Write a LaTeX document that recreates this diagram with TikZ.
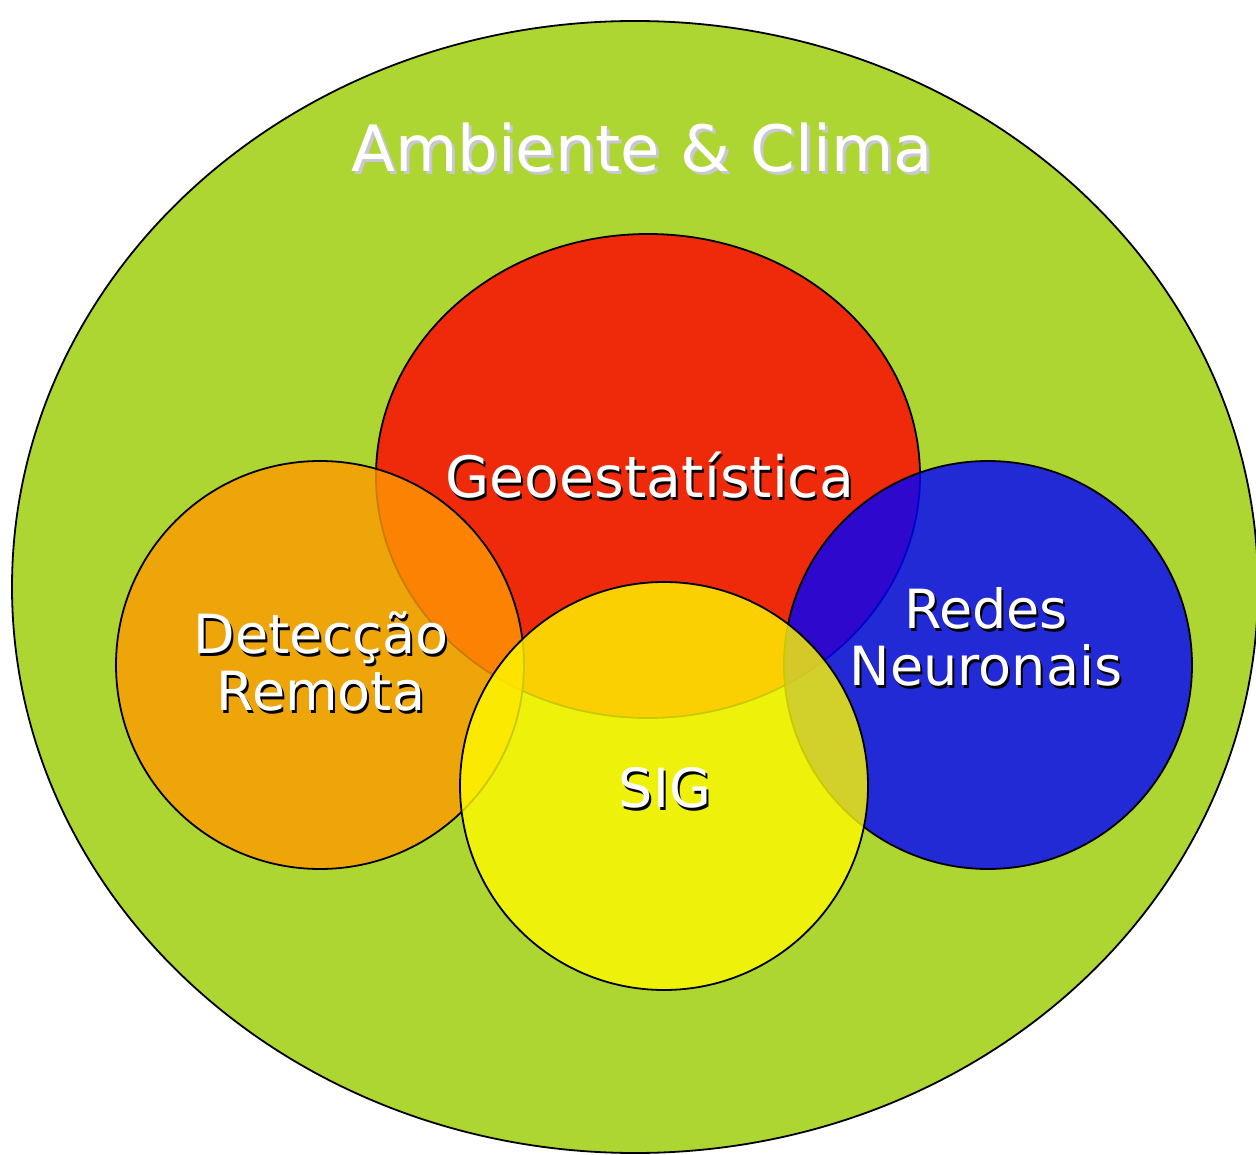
\documentclass[tikz,border=0pt]{standalone}
\usepackage{fontspec}
\setmainfont{DejaVu Sans}
\usepackage{xcolor}
\definecolor{envgreen}{HTML}{AED633}
\definecolor{geored}{HTML}{FF0000}
\definecolor{remorange}{HTML}{FF9900}
\definecolor{netblue}{HTML}{0000FF}
\definecolor{sigyellow}{HTML}{FFFA00}
\definecolor{titleshade}{HTML}{C8C8D4}
\tikzstyle{venn} = [
    draw=black,
    line width=1.8pt,
    fill opacity=0.8
    ]
\tikzstyle{labeltext} = [
    text=white,
    align=center,
    inner sep=0pt,
    anchor=base,
    font=\fontsize{54}{57}\selectfont
    ]
\tikzstyle{labelshade} = [
    labeltext,
    text=black
    ]

\begin{document}
\begin{tikzpicture}[x=1pt,y=-1pt]
\useasboundingbox (0,0) rectangle (1256,1155);
% outer field
\draw[fill=envgreen, line width=1.8pt] (635,587) ellipse [x radius=623, y radius=566];
% the four methods
\draw[venn, fill=geored] (648,476) ellipse [x radius=272, y radius=242];
\draw[venn, fill=remorange] (320,665) circle [radius=204];
\draw[venn, fill=netblue] (988,665) circle [radius=204];
\draw[venn, fill=sigyellow] (664,786) circle [radius=204];

\node[labeltext, text=titleshade, font=\fontsize{64}{70}\selectfont] at (645,175) {Ambiente \& Clima};
\node[labeltext, font=\fontsize{64}{70}\selectfont] (title) at (642,172) {Ambiente \& Clima};

\node[labelshade, font=\fontsize{57}{60}\selectfont] at (652,500) {Geoestatística};
\node[labeltext, font=\fontsize{57}{60}\selectfont] (geo) at (650,497) {Geoestatística};

% multi-line nodes sit on the baseline of their last line
\node[labelshade] at (323,713) {Detecção\\Remota};
\node[labeltext] (rem) at (321,710) {Detecção\\Remota};

\node[labelshade] at (988,688) {Redes\\Neuronais};
\node[labeltext] (net) at (986,685) {Redes\\Neuronais};

\node[labelshade] at (667,810) {SIG};
\node[labeltext] (sig) at (665,807) {SIG};
\end{tikzpicture}
\end{document}
